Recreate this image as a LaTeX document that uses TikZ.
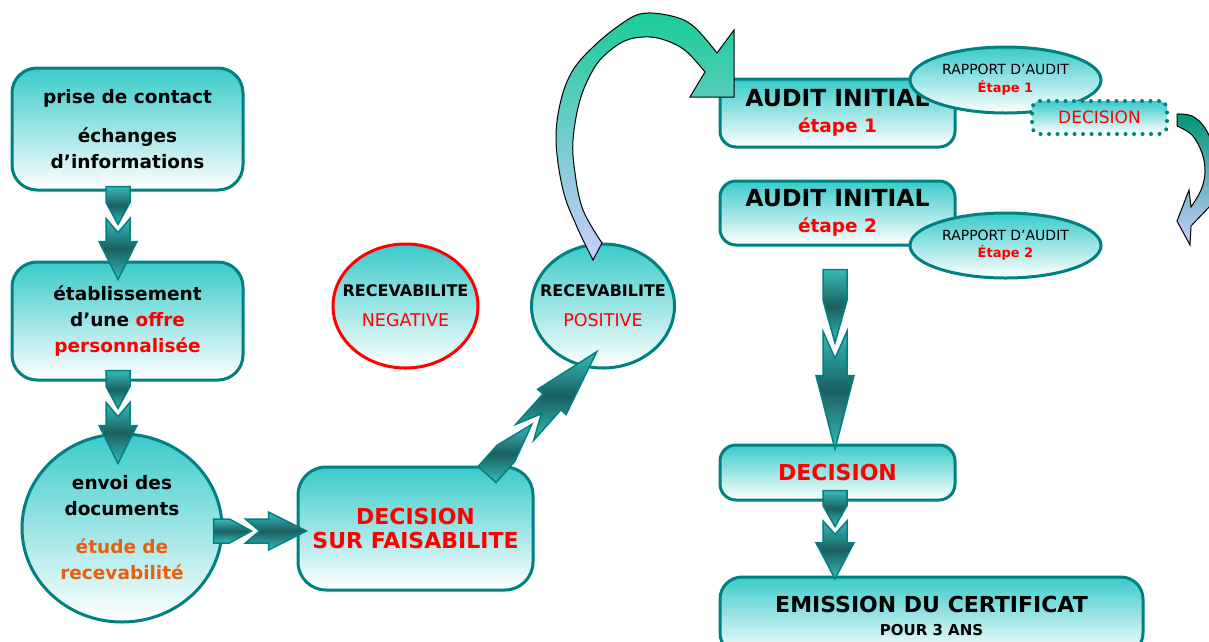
\documentclass[tikz,border=0pt]{standalone}
\usepackage{fontspec}
\setmainfont{DejaVu Sans}
\usetikzlibrary{shapes.geometric,calc}

\definecolor{tealline}{RGB}{0,128,128}
\definecolor{boxtop}{RGB}{58,202,202}
\definecolor{arrowlight}{RGB}{56,186,186}
\definecolor{arrowdark}{RGB}{26,96,96}
\definecolor{textred}{RGB}{255,0,0}
\definecolor{textorange}{RGB}{230,96,16}
\definecolor{curvegreen}{RGB}{24,204,152}
\definecolor{curvelav}{RGB}{204,204,255}
\definecolor{curvedeep}{RGB}{0,150,120}

\tikzset{
    stepbox/.style={
        rectangle,
        rounded corners=18pt,
        draw=tealline,
        line width=3pt,
        top color=boxtop,
        bottom color=white,
        align=center,
        inner sep=0pt
    },
    ovalbox/.style={
        ellipse,
        draw=tealline,
        line width=3pt,
        top color=boxtop,
        bottom color=white,
        align=center,
        inner sep=0pt
    },
    dotbox/.style={
        rectangle,
        rounded corners=8pt,
        draw=tealline,
        line width=4pt,
        dash pattern=on 0pt off 8.5pt,
        line cap=round,
        top color=boxtop,
        bottom color=white,
        inner sep=0pt
    },
    arrowpiece/.style={
        draw=tealline,
        line width=1.5pt,
        line join=miter,
        top color=arrowlight,
        bottom color=arrowlight,
        middle color=arrowdark
    },
    curvearrow/.style={
        draw=black,
        line width=1pt,
        line join=miter
    },
    boxfont/.style={font=\bfseries\fontsize{18.5}{26}\selectfont},
    capfont/.style={font=\bfseries\fontsize{22}{24}\selectfont},
    pics/duoarrow/.style={code={
        \path[arrowpiece] (-12,0) -- (12,0) -- (12,16) -- (0,38) -- (-12,16) -- cycle;
        \path[arrowpiece] (-12,32) -- (0,46) -- (12,32) -- (12,55) -- (19,55)
            -- (0,93) -- (-19,55) -- (-12,55) -- cycle;
    }}
}

\begin{document}
\begin{tikzpicture}[x=1pt, y=-1pt]
    \useasboundingbox (0,0) rectangle (1209,641);
    \fill[white] (0,0) rectangle (1209,641);

    % Left column
    \node[stepbox, boxfont, rounded corners=25pt, minimum width=231pt, minimum height=122pt] (contact) at (127.5,129)
        {prise de contact\\[13pt] échanges\\d’informations};
    \node[stepbox, boxfont, rounded corners=25pt, minimum width=231pt, minimum height=118pt] (offre) at (127.5,321)
        {établissement\\d’une \textcolor{textred}{offre}\\\textcolor{textred}{personnalisée}};
    \node[ovalbox, boxfont, minimum width=200pt, minimum height=188pt] (envoi) at (122,528)
        {envoi des\\documents\\[12pt]\textcolor{textorange}{étude de}\\\textcolor{textorange}{recevabilité}};

    % Feasibility decision
    \node[stepbox, capfont, text=textred, rounded corners=28pt, minimum width=235pt, minimum height=123pt] (faisab) at (415.5,528.5)
        {DECISION\\SUR FAISABILITE};

    % Admissibility outcomes
    \node[ovalbox, draw=textred, inner xsep=-20pt, font=\fontsize{16}{22}\selectfont, minimum width=145pt, minimum height=124pt] (negative) at (405.5,306)
        {{\bfseries RECEVABILITE}\\[8pt]{\fontsize{17.5}{22}\selectfont\textcolor{textred}{NEGATIVE}}};
    \node[ovalbox, inner xsep=-20pt, font=\fontsize{16}{22}\selectfont, minimum width=143pt, minimum height=124pt] (positive) at (603,306)
        {{\bfseries RECEVABILITE}\\[8pt]{\fontsize{17.5}{22}\selectfont\textcolor{textred}{POSITIVE}}};

    % Audit steps
    \node[stepbox, font=\bfseries\fontsize{23.5}{26}\selectfont, rounded corners=16pt, minimum width=235pt, minimum height=68pt] (audit1) at (837.5,113)
        {AUDIT INITIAL\\{\fontsize{18.5}{26}\selectfont\textcolor{textred}{étape 1}}};
    \node[ovalbox, inner xsep=-10pt, font=\fontsize{14}{18}\selectfont, minimum width=191pt, minimum height=66pt] (rapport1) at (1005.5,80)
        {RAPPORT D’AUDIT\\{\bfseries\fontsize{13}{18}\selectfont\textcolor{textred}{Étape 1}}};
    \node[dotbox, minimum width=135pt, minimum height=33pt, font=\fontsize{17}{20}\selectfont, text=textred] (dotdec) at (1099.5,117.5)
        {DECISION};
    \node[stepbox, font=\bfseries\fontsize{23.5}{26}\selectfont, rounded corners=16pt, minimum width=235pt, minimum height=64pt] (audit2) at (837.5,213)
        {AUDIT INITIAL\\{\fontsize{18.5}{26}\selectfont\textcolor{textred}{étape 2}}};
    \node[ovalbox, inner xsep=-10pt, font=\fontsize{14}{17}\selectfont, minimum width=191pt, minimum height=65pt] (rapport2) at (1005.5,245.5)
        {RAPPORT D’AUDIT\\{\bfseries\fontsize{13}{17}\selectfont\textcolor{textred}{Étape 2}}};

    % Certification
    \node[stepbox, capfont, text=textred, rounded corners=16pt, minimum width=235pt, minimum height=55pt] (decision) at (837.5,472.5)
        {DECISION};
    \node[stepbox, font=\bfseries\fontsize{22}{23}\selectfont, rounded corners=22pt, minimum width=423pt, minimum height=78pt] (emission) at (931.5,616)
        {EMISSION DU CERTIFICAT\\{\fontsize{15}{23}\selectfont POUR 3 ANS}};

    % Block arrows
    \pic at ($(contact.south)+(-9.5,-5)$) {duoarrow};
    \pic at ($(offre.south)+(-9.5,-11)$) {duoarrow};
    \pic[rotate=90] at ($(envoi.east)+(-10,3)$) {duoarrow};
    \pic[rotate=138.2, yscale=1.77] at ($(faisab.north)+(71.5,9)$) {duoarrow};
    \pic[yscale=1.93] at ($(audit2.south)+(-2.5,23)$) {duoarrow};
    \pic[yscale=0.95] at ($(decision.south)+(-2.5,-11)$) {duoarrow};

    % Curved arrow to audit
    \draw[curvearrow, top color=curvegreen, bottom color=curvelav]
        (593,260) -- plot[smooth, tension=0.6] coordinates {(593,260) (577,227) (563,190) (556,140) (561,100)
            (573,70) (593,47) (617,27) (640,14) (667,15) (692,25) (717,53)}
        -- (734,30) -- (734,97) -- (690,97) -- (705,72)
        -- plot[smooth, tension=0.6] coordinates {(705,72) (687,52) (670,42) (650,37) (627,40) (607,53)
            (593,70) (580,100) (573,140) (575,173) (583,210) (602,243)}
        -- cycle;

    % Curved arrow after decision
    \draw[curvearrow, top color=curvedeep, bottom color=curvelav]
        (1177,114) -- plot[smooth, tension=0.6] coordinates {(1177,114) (1192,116) (1205,128) (1214,150)
            (1217,180) (1212,204)}
        -- (1191,226) -- (1190,245) -- (1177,221) -- (1189,190) -- (1191,207)
        -- plot[smooth, tension=0.6] coordinates {(1191,207) (1201,190) (1205,172) (1202,153) (1192,135) (1177,126)}
        -- cycle;
\end{tikzpicture}
\end{document}
